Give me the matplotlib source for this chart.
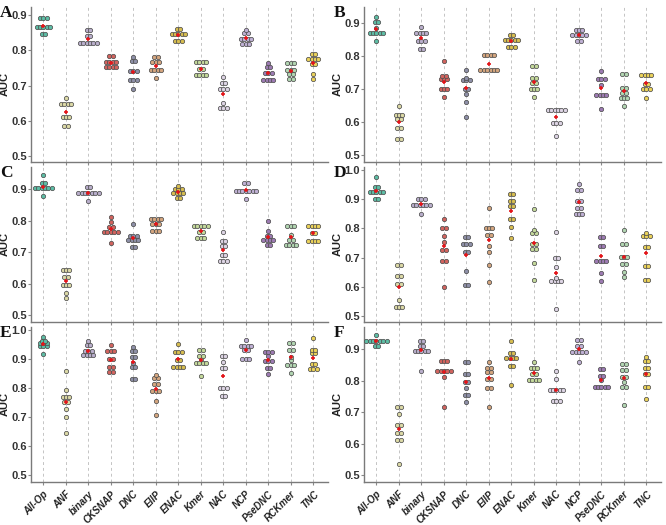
import numpy as np
import matplotlib
matplotlib.use("Agg")
import matplotlib.pyplot as plt

plt.rcParams['font.family'] = ['Liberation Sans', 'DejaVu Sans']

categories = ["All-Op", "ANF", "binary", "CKSNAP", "DNC", "EIIP", "ENAC",
              "Kmer", "NAC", "NCP", "PseDNC", "RCKmer", "TNC"]

colors = ["#5dbda5", "#dcd9a6", "#b9aecb", "#d2635e", "#8e90a8", "#d4a57e", "#d7bd4f",
          "#c4d99b", "#ddd4e4", "#bfb0d4", "#9d7bb3", "#b2d6b2", "#ebd25a"]

# AUC of the 10 folds, one list per encoding
auc_A = [
    [0.892, 0.892, 0.892, 0.866, 0.866, 0.866, 0.866, 0.866, 0.845, 0.845],
    [0.664, 0.648, 0.648, 0.648, 0.648, 0.610, 0.610, 0.610, 0.585, 0.585],
    [0.857, 0.857, 0.840, 0.840, 0.822, 0.822, 0.822, 0.822, 0.822, 0.822],
    [0.785, 0.785, 0.768, 0.768, 0.768, 0.768, 0.753, 0.753, 0.753, 0.753],
    [0.782, 0.770, 0.770, 0.742, 0.742, 0.742, 0.717, 0.717, 0.717, 0.691],
    [0.780, 0.780, 0.766, 0.766, 0.766, 0.744, 0.744, 0.744, 0.744, 0.722],
    [0.860, 0.860, 0.845, 0.845, 0.845, 0.845, 0.845, 0.826, 0.826, 0.826],
    [0.766, 0.766, 0.766, 0.766, 0.747, 0.747, 0.729, 0.729, 0.729, 0.729],
    [0.725, 0.708, 0.708, 0.689, 0.689, 0.689, 0.650, 0.636, 0.636, 0.636],
    [0.857, 0.848, 0.848, 0.833, 0.833, 0.833, 0.833, 0.819, 0.819, 0.819],
    [0.765, 0.753, 0.753, 0.736, 0.736, 0.736, 0.716, 0.716, 0.716, 0.716],
    [0.763, 0.763, 0.763, 0.745, 0.745, 0.745, 0.733, 0.733, 0.718, 0.718],
    [0.789, 0.789, 0.774, 0.774, 0.774, 0.774, 0.761, 0.761, 0.733, 0.718],
]
auc_B = [
    [0.920, 0.904, 0.904, 0.885, 0.872, 0.872, 0.872, 0.872, 0.872, 0.848],
    [0.650, 0.621, 0.621, 0.621, 0.609, 0.609, 0.583, 0.583, 0.550, 0.550],
    [0.889, 0.872, 0.872, 0.872, 0.872, 0.846, 0.846, 0.846, 0.821, 0.821],
    [0.786, 0.740, 0.740, 0.730, 0.730, 0.730, 0.700, 0.700, 0.700, 0.677],
    [0.759, 0.735, 0.727, 0.727, 0.727, 0.702, 0.702, 0.685, 0.660, 0.617],
    [0.804, 0.804, 0.804, 0.804, 0.759, 0.759, 0.759, 0.759, 0.759, 0.759],
    [0.864, 0.864, 0.851, 0.851, 0.851, 0.851, 0.851, 0.829, 0.829, 0.829],
    [0.771, 0.771, 0.734, 0.734, 0.718, 0.718, 0.700, 0.700, 0.700, 0.677],
    [0.636, 0.636, 0.636, 0.636, 0.636, 0.636, 0.596, 0.596, 0.596, 0.559],
    [0.879, 0.879, 0.879, 0.865, 0.865, 0.865, 0.865, 0.865, 0.847, 0.847],
    [0.756, 0.730, 0.730, 0.730, 0.713, 0.682, 0.682, 0.682, 0.682, 0.641],
    [0.747, 0.747, 0.704, 0.704, 0.690, 0.690, 0.673, 0.673, 0.673, 0.648],
    [0.742, 0.742, 0.742, 0.742, 0.716, 0.716, 0.702, 0.702, 0.702, 0.673],
]
auc_C = [
    [0.944, 0.920, 0.920, 0.902, 0.902, 0.902, 0.902, 0.902, 0.902, 0.878],
    [0.644, 0.644, 0.644, 0.621, 0.621, 0.597, 0.597, 0.597, 0.571, 0.553],
    [0.907, 0.907, 0.886, 0.886, 0.886, 0.886, 0.886, 0.886, 0.886, 0.863],
    [0.810, 0.797, 0.781, 0.781, 0.765, 0.765, 0.765, 0.765, 0.765, 0.728],
    [0.788, 0.752, 0.752, 0.752, 0.739, 0.739, 0.739, 0.739, 0.716, 0.716],
    [0.804, 0.804, 0.804, 0.804, 0.789, 0.789, 0.789, 0.768, 0.768, 0.768],
    [0.910, 0.900, 0.900, 0.900, 0.886, 0.886, 0.886, 0.886, 0.872, 0.872],
    [0.783, 0.783, 0.783, 0.783, 0.783, 0.765, 0.765, 0.744, 0.744, 0.744],
    [0.765, 0.736, 0.736, 0.718, 0.718, 0.690, 0.690, 0.671, 0.671, 0.671],
    [0.920, 0.920, 0.894, 0.894, 0.894, 0.894, 0.894, 0.894, 0.894, 0.867],
    [0.800, 0.767, 0.752, 0.752, 0.739, 0.739, 0.739, 0.739, 0.721, 0.721],
    [0.783, 0.783, 0.783, 0.755, 0.739, 0.739, 0.723, 0.723, 0.723, 0.723],
    [0.783, 0.783, 0.783, 0.783, 0.762, 0.762, 0.734, 0.734, 0.734, 0.734],
]
auc_D = [
    [0.975, 0.940, 0.940, 0.924, 0.924, 0.924, 0.924, 0.924, 0.900, 0.900],
    [0.676, 0.676, 0.639, 0.639, 0.610, 0.610, 0.555, 0.530, 0.530, 0.530],
    [0.902, 0.902, 0.902, 0.880, 0.880, 0.880, 0.880, 0.880, 0.880, 0.848],
    [0.832, 0.800, 0.800, 0.774, 0.754, 0.725, 0.725, 0.687, 0.687, 0.601],
    [0.769, 0.769, 0.748, 0.748, 0.748, 0.720, 0.720, 0.654, 0.607, 0.607],
    [0.869, 0.802, 0.802, 0.802, 0.779, 0.779, 0.740, 0.720, 0.676, 0.618],
    [0.917, 0.917, 0.894, 0.894, 0.875, 0.875, 0.831, 0.831, 0.806, 0.768],
    [0.866, 0.794, 0.783, 0.783, 0.748, 0.748, 0.731, 0.731, 0.682, 0.622],
    [0.789, 0.700, 0.700, 0.668, 0.630, 0.620, 0.620, 0.620, 0.620, 0.524],
    [0.953, 0.932, 0.932, 0.894, 0.894, 0.869, 0.869, 0.851, 0.851, 0.851],
    [0.771, 0.771, 0.740, 0.740, 0.690, 0.690, 0.690, 0.690, 0.647, 0.620],
    [0.794, 0.746, 0.746, 0.702, 0.702, 0.702, 0.679, 0.679, 0.650, 0.633],
    [0.785, 0.774, 0.774, 0.774, 0.737, 0.737, 0.671, 0.671, 0.624, 0.624],
]
auc_E = [
    [0.975, 0.963, 0.963, 0.955, 0.955, 0.955, 0.945, 0.945, 0.945, 0.917],
    [0.857, 0.792, 0.768, 0.768, 0.768, 0.750, 0.750, 0.728, 0.699, 0.645],
    [0.962, 0.948, 0.948, 0.928, 0.928, 0.928, 0.912, 0.912, 0.912, 0.912],
    [0.947, 0.926, 0.926, 0.926, 0.900, 0.900, 0.872, 0.872, 0.854, 0.854],
    [0.941, 0.926, 0.926, 0.906, 0.906, 0.887, 0.871, 0.871, 0.832, 0.832],
    [0.846, 0.835, 0.835, 0.815, 0.815, 0.789, 0.789, 0.789, 0.754, 0.708],
    [0.953, 0.924, 0.924, 0.924, 0.898, 0.898, 0.871, 0.871, 0.871, 0.871],
    [0.930, 0.930, 0.909, 0.909, 0.900, 0.886, 0.886, 0.886, 0.886, 0.840],
    [0.911, 0.911, 0.890, 0.869, 0.869, 0.800, 0.800, 0.800, 0.774, 0.774],
    [0.964, 0.946, 0.946, 0.946, 0.946, 0.930, 0.930, 0.900, 0.900, 0.900],
    [0.925, 0.925, 0.925, 0.911, 0.892, 0.892, 0.892, 0.869, 0.869, 0.848],
    [0.955, 0.955, 0.930, 0.930, 0.905, 0.895, 0.880, 0.880, 0.880, 0.850],
    [0.972, 0.932, 0.932, 0.921, 0.921, 0.883, 0.883, 0.866, 0.866, 0.866],
]
auc_F = [
    [0.944, 0.926, 0.926, 0.926, 0.926, 0.926, 0.926, 0.926, 0.910, 0.910],
    [0.717, 0.717, 0.693, 0.659, 0.659, 0.632, 0.632, 0.611, 0.611, 0.534],
    [0.926, 0.926, 0.911, 0.911, 0.895, 0.895, 0.895, 0.895, 0.895, 0.831],
    [0.863, 0.863, 0.863, 0.831, 0.831, 0.831, 0.831, 0.831, 0.810, 0.717],
    [0.858, 0.858, 0.820, 0.820, 0.796, 0.796, 0.775, 0.754, 0.754, 0.731],
    [0.860, 0.841, 0.841, 0.826, 0.826, 0.805, 0.805, 0.775, 0.775, 0.717],
    [0.926, 0.889, 0.889, 0.872, 0.872, 0.872, 0.872, 0.847, 0.847, 0.786],
    [0.858, 0.840, 0.840, 0.840, 0.822, 0.822, 0.803, 0.803, 0.803, 0.803],
    [0.830, 0.804, 0.770, 0.770, 0.770, 0.770, 0.770, 0.736, 0.736, 0.736],
    [0.929, 0.929, 0.911, 0.911, 0.892, 0.892, 0.892, 0.892, 0.892, 0.858],
    [0.837, 0.837, 0.814, 0.814, 0.802, 0.780, 0.780, 0.780, 0.780, 0.780],
    [0.851, 0.851, 0.833, 0.833, 0.810, 0.810, 0.796, 0.780, 0.780, 0.722],
    [0.874, 0.862, 0.862, 0.839, 0.839, 0.820, 0.820, 0.780, 0.780, 0.743],
]

panels = ["A", "B", "C", "D", "E", "F"]
panel_data = [auc_A, auc_B, auc_C, auc_D, auc_E, auc_F]
panel_ylim = [(0.483, 0.923), (0.479, 0.95), (0.478, 0.97),
              (0.48, 1.01), (0.476, 1.01), (0.478, 0.97)]
panel_yticks = [[0.5, 0.6, 0.7, 0.8, 0.9], [0.5, 0.6, 0.7, 0.8, 0.9],
                [0.5, 0.6, 0.7, 0.8, 0.9], [0.5, 0.6, 0.7, 0.8, 0.9, 1.0],
                [0.5, 0.6, 0.7, 0.8, 0.9, 1.0], [0.5, 0.6, 0.7, 0.8, 0.9]]

W, H = 666, 525
fig = plt.figure(figsize=(W / 100, H / 100), dpi=100)
col_x = [31, 364]
row_top = [7, 167, 327]
axw, axh = 297, 155
dx = 0.15   # dot width in category units

for k, letter in enumerate(panels):
    r, c = k // 2, k % 2
    ax = fig.add_axes([col_x[c] / W, 1 - (row_top[r] + axh) / H, axw / W, axh / H])
    data = panel_data[k]
    x = np.arange(len(categories))
    for xi in x:
        ax.axvline(xi, color="#c4c4c4", lw=0.7, ls=(0, (3, 3)), zorder=1)
    for i, vals in enumerate(data):
        vals = np.array(vals)
        levels, counts = np.unique(vals, return_counts=True)
        for lv, n in zip(levels, counts):
            offs = (np.arange(n) - (n - 1) / 2) * dx
            ax.plot(i + offs, [lv] * n, "o", ms=3.1, mfc=colors[i], mec="#505050",
                    mew=0.55, zorder=3, ls="none")
        ax.plot(i, vals.mean(), "+", color="#e3151a", ms=3.5, mew=1.2, zorder=4)
    ax.set_xlim(-0.55, 12.65)
    ax.set_ylim(*panel_ylim[k])
    ax.set_yticks(panel_yticks[k])
    ax.set_yticklabels(["%.1f" % t for t in panel_yticks[k]], fontsize=8,
                       fontweight="bold", color="#333333")
    ax.set_xticks(x)
    if r == 2:
        ax.set_xticklabels(categories, rotation=45, ha="right", va="top",
                           rotation_mode="anchor", fontsize=7,
                           fontweight="bold", style="italic", color="#222222")
    else:
        ax.set_xticklabels([])
    ax.tick_params(axis="x", length=2, color="#888888", pad=3)
    ax.tick_params(axis="y", length=2, color="#888888", pad=1)
    for s in ["top", "right"]:
        ax.spines[s].set_visible(False)
    for s in ["left", "bottom"]:
        ax.spines[s].set_color("#7a7a7a")
        ax.spines[s].set_linewidth(1.0)
    ax.set_ylabel("AUC", fontsize=8, fontweight="bold", color="#222222")
    ax.yaxis.set_label_coords(-0.07, 0.5)
    fig.text((0 if c == 0 else 334) / W, 1 - (row_top[r] + 6) / H, letter,
             family="Liberation Serif", fontweight="bold", fontsize=12.5,
             ha="left", va="center", color="#111111")

fig.savefig("out.png", dpi=100)
